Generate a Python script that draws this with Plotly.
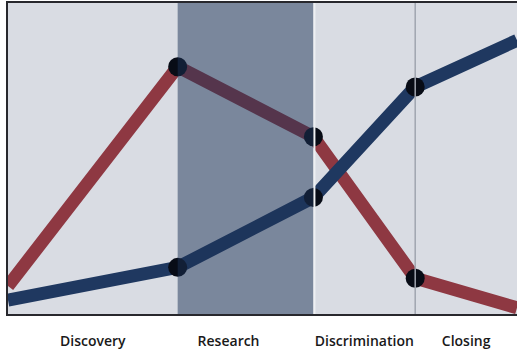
import plotly.graph_objects as go

# Sales-stage boundaries (stage widths differ) and stage labels
stage_edges = [0.0, 1.0, 1.8, 2.4, 3.0]
stage_names = ["Discovery", "Research", "Discrimination", "Closing"]
label_positions = [0.5, 1.3, 2.1, 2.7]

# Two series sampled at each stage boundary
red_values = [9, 79.5, 57, 11.5, 2]
blue_values = [4.5, 15, 37.5, 73, 88]

RED = "rgb(142,56,66)"
BLUE = "rgb(31,56,96)"
BG = "rgb(217,220,227)"

fig = go.Figure()
for vals, col in [(red_values, RED), (blue_values, BLUE)]:
    fig.add_trace(go.Scatter(
        x=stage_edges, y=vals, mode="lines",
        line=dict(color=col, width=13),
        hoverinfo="skip", showlegend=False,
    ))
for vals in [red_values, blue_values]:
    fig.add_trace(go.Scatter(
        x=stage_edges[1:4], y=vals[1:4], mode="markers",
        marker=dict(color="rgb(8,12,22)", size=19),
        hoverinfo="skip", showlegend=False,
    ))

# Highlighted "Research" stage, tinted over the lines
fig.add_shape(type="rect", xref="x", yref="paper",
              x0=stage_edges[1], x1=stage_edges[2], y0=0, y1=1,
              fillcolor="rgba(27,50,85,0.5)", line_width=0, layer="above")
# Light edge at the end of the highlighted stage
fig.add_shape(type="line", xref="x", yref="paper",
              x0=stage_edges[2] + 0.006, x1=stage_edges[2] + 0.006, y0=0, y1=1,
              line=dict(color="rgb(238,240,243)", width=2), layer="above")
# Thin divider before "Closing"
fig.add_shape(type="line", xref="x", yref="paper",
              x0=stage_edges[3], x1=stage_edges[3], y0=0, y1=1,
              line=dict(color="rgb(160,165,175)", width=1.5), layer="above")

fig.update_layout(
    width=517, height=350,
    margin=dict(l=8, r=0, t=3, b=36),
    paper_bgcolor="white", plot_bgcolor=BG,
    xaxis=dict(
        range=[stage_edges[0], stage_edges[-1]],
        tickvals=label_positions, ticktext=stage_names,
        showgrid=False, zeroline=False, ticks="",
        showline=True, linecolor="rgb(40,40,45)", linewidth=2, mirror=True,
        tickfont=dict(family="Open Sans", size=14, color="rgb(25,25,25)", weight=600),
        ticklabelstandoff=13,
    ),
    yaxis=dict(
        range=[0, 100], showgrid=False, zeroline=False,
        showticklabels=False, ticks="",
        showline=True, linecolor="rgb(40,40,45)", linewidth=2,
    ),
)

fig.write_html("out.html")
